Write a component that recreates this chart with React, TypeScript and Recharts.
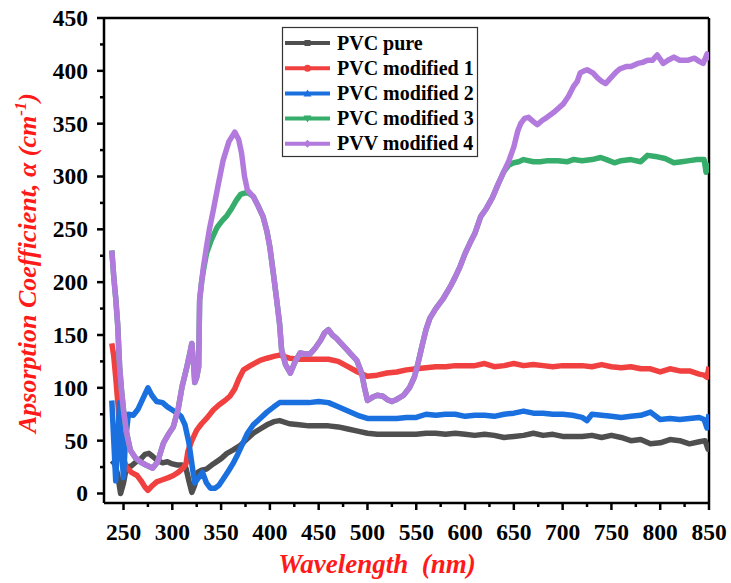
import React from 'react';
import { LineChart, Line, XAxis, YAxis, ReferenceLine } from 'recharts';

// wavelength (nm) / absorption coefficient pairs
const pvcPure: [number, number][] = [
  [238, 31], [241, 28], [244, 18], [247, 0], [250, 10], [253, 25], [258, 26], [263, 30], [268, 33],
  [272, 37], [276, 38], [280, 35], [285, 31], [290, 29], [295, 30], [300, 28], [305, 27], [310, 27],
  [314, 24], [317, 12], [320, 1], [323, 8], [326, 20], [330, 22], [335, 23], [342, 28], [350, 33],
  [356, 38], [362, 41], [369, 45], [376, 51], [383, 57], [390, 61], [397, 65], [404, 68], [410, 69],
  [420, 66], [430, 65], [440, 64], [450, 64], [460, 64], [470, 63], [480, 61], [490, 59], [500, 57],
  [510, 56], [520, 56], [530, 56], [540, 56], [550, 56], [560, 57], [570, 57], [580, 56], [590, 57],
  [600, 56], [610, 55], [620, 56], [630, 55], [640, 53], [650, 54], [660, 55], [670, 57], [680, 55],
  [690, 56], [700, 54], [710, 54], [720, 54], [730, 55], [740, 53], [750, 55], [760, 53], [770, 50],
  [780, 51], [790, 47], [800, 48], [810, 51], [820, 50], [830, 47], [840, 49], [846, 50], [849, 42], [850, 45],
];

const pvcModified1: [number, number][] = [
  [238, 142], [240, 130], [242, 110], [244, 88], [246, 63], [248, 45], [250, 33], [253, 25], [258, 20],
  [264, 17], [268, 12], [272, 6], [275, 3], [279, 7], [284, 11], [290, 13], [296, 15], [301, 17],
  [306, 20], [311, 24], [314, 28], [316, 40], [320, 50], [325, 60], [330, 66], [336, 72], [342, 79],
  [348, 84], [354, 88], [359, 92], [364, 99], [368, 108], [373, 117], [380, 121], [390, 126], [397, 128],
  [405, 130], [410, 131], [420, 128], [430, 127], [440, 127], [450, 127], [460, 127], [470, 125],
  [480, 120], [490, 115], [500, 111], [510, 112], [520, 114], [530, 115], [540, 117], [550, 118],
  [560, 119], [570, 120], [580, 120], [590, 121], [600, 121], [610, 121], [620, 123], [630, 120],
  [640, 121], [650, 123], [660, 121], [670, 122], [680, 121], [690, 120], [700, 121], [710, 121],
  [720, 121], [730, 120], [740, 122], [750, 120], [760, 119], [770, 120], [780, 118], [790, 118],
  [800, 115], [810, 118], [820, 116], [830, 116], [840, 113], [845, 112], [848, 110], [850, 120],
];

const pvcModified2: [number, number][] = [
  [238, 88], [240, 50], [242, 12], [244, 50], [246, 86], [248, 40], [250, 15], [252, 50], [255, 75],
  [260, 74], [265, 80], [270, 90], [275, 100], [279, 93], [284, 87], [290, 86], [295, 82], [300, 79],
  [305, 76], [309, 73], [313, 65], [317, 48], [321, 22], [323, 10], [327, 15], [331, 20], [335, 10],
  [339, 5], [344, 5], [348, 8], [353, 15], [358, 22], [362, 28], [367, 37], [372, 47], [377, 57],
  [383, 65], [390, 71], [397, 77], [404, 82], [410, 86], [420, 86], [430, 86], [440, 86], [450, 87],
  [460, 86], [470, 82], [480, 78], [490, 74], [500, 71], [510, 71], [520, 71], [530, 71], [540, 72],
  [550, 72], [560, 75], [570, 74], [580, 75], [590, 75], [600, 73], [610, 74], [620, 74], [630, 73],
  [640, 75], [650, 76], [660, 78], [670, 76], [680, 76], [690, 75], [700, 75], [710, 74], [720, 72],
  [725, 69], [730, 75], [740, 74], [750, 73], [760, 72], [770, 73], [780, 74], [790, 77], [800, 70],
  [810, 71], [820, 70], [830, 71], [840, 72], [845, 70], [848, 62], [850, 75],
];

const pvcModified3: [number, number][] = [
  [238, 230], [240, 205], [242, 185], [244, 160], [246, 120], [248, 97], [250, 79], [253, 58], [257, 41],
  [262, 34], [267, 30], [273, 27], [280, 24], [285, 30], [291, 48], [296, 56], [301, 63], [306, 80],
  [310, 101], [315, 120], [318, 133], [320, 142], [322, 120], [323, 105], [325, 110], [327, 120],
  [328, 183], [330, 200], [332, 212], [335, 227], [340, 240], [346, 252], [351, 258], [356, 263],
  [361, 270], [366, 278], [370, 283], [373, 284], [377, 285], [383, 281], [388, 272], [393, 262],
  [397, 248], [400, 233], [404, 205], [407, 183], [410, 160], [412, 136], [416, 122], [421, 114],
  [426, 125], [431, 133], [436, 132], [441, 132], [446, 137], [452, 145], [456, 152], [460, 155],
  [464, 150], [468, 147], [472, 143], [478, 137], [484, 131], [489, 126], [494, 114], [497, 100],
  [500, 88], [505, 91], [510, 93], [516, 92], [520, 89], [525, 87], [530, 89], [537, 93], [543, 100],
  [548, 110], [551, 120], [556, 140], [560, 155], [564, 166], [570, 175], [578, 185], [585, 196],
  [590, 205], [595, 215], [600, 227], [605, 237], [610, 246], [616, 262], [622, 270], [628, 280],
  [634, 293], [640, 305], [645, 311], [650, 313], [655, 314], [660, 316], [670, 314], [677, 314],
  [685, 315], [695, 315], [705, 314], [711, 316], [720, 315], [730, 316], [739, 318], [745, 316],
  [753, 313], [760, 315], [770, 316], [780, 314], [787, 320], [795, 319], [805, 317], [814, 313],
  [822, 314], [830, 315], [838, 316], [845, 316], [847, 304], [850, 313],
];

const pvvModified4: [number, number][] = [
  [238, 230], [240, 205], [242, 185], [244, 160], [246, 120], [248, 97], [250, 79], [253, 58], [257, 41],
  [262, 34], [267, 30], [273, 27], [280, 24], [285, 30], [291, 48], [296, 56], [301, 63], [306, 80],
  [310, 101], [315, 120], [318, 133], [320, 142], [322, 120], [323, 105], [325, 110], [327, 120],
  [328, 183], [330, 200], [332, 215], [335, 233], [338, 250], [342, 268], [347, 292], [352, 315],
  [358, 333], [364, 342], [368, 335], [371, 322], [374, 300], [377, 287], [383, 281], [388, 272],
  [393, 262], [397, 248], [400, 233], [404, 205], [407, 183], [410, 160], [412, 136], [416, 122],
  [421, 114], [426, 125], [431, 133], [436, 132], [441, 132], [446, 137], [452, 145], [456, 152],
  [460, 155], [464, 150], [468, 147], [472, 143], [478, 137], [484, 131], [489, 126], [494, 114],
  [497, 100], [500, 88], [505, 91], [510, 93], [516, 92], [520, 89], [525, 87], [530, 89], [537, 93],
  [543, 100], [548, 110], [551, 120], [556, 140], [560, 155], [564, 166], [570, 175], [578, 185],
  [585, 196], [590, 205], [595, 215], [600, 227], [605, 237], [610, 246], [616, 262], [622, 270],
  [628, 280], [634, 293], [640, 305], [645, 315], [650, 328], [654, 343], [657, 350], [661, 355],
  [665, 356], [670, 352], [674, 349], [679, 353], [684, 356], [690, 360], [695, 364], [701, 369],
  [706, 376], [711, 385], [715, 390], [718, 398], [722, 400], [725, 401], [731, 398], [736, 393],
  [740, 390], [744, 388], [750, 394], [755, 399], [759, 402], [765, 404], [770, 404], [777, 407],
  [782, 408], [787, 410], [792, 410], [797, 415], [803, 407], [808, 410], [814, 413], [820, 410],
  [828, 410], [835, 412], [840, 409], [844, 407], [848, 416], [850, 410],
];

const seriesNames = ['PVC pure', 'PVC modified 1', 'PVC modified 2', 'PVC modified 3', 'PVV modified 4'];
const seriesData = [pvcPure, pvcModified1, pvcModified2, pvcModified3, pvvModified4];
const xTicks = [250, 275, 300, 325, 350, 375, 400, 425, 450, 475, 500, 525, 550, 575, 600, 625, 650, 675, 700, 725, 750, 775, 800, 825, 850];
const yTicks = [0, 25, 50, 75, 100, 125, 150, 175, 200, 225, 250, 275, 300, 325, 350, 375, 400, 425, 450];

const COLORS = ['#4f4f4f', '#f0403f', '#1a70de', '#36ad6a', '#b27adc'];
const FONT = "'Times New Roman', 'Liberation Serif', serif";

const XTick = (props: any) => {
  const { x, y, payload } = props;
  const major = payload.value % 50 === 0;
  return (
    <g>
      <line x1={x} x2={x} y1={y} y2={y + (major ? 7 : 4)} stroke="#000" strokeWidth={2.5} />
      {major && (
        <text x={x} y={y + 37} textAnchor="middle" fontFamily={FONT} fontWeight="bold" fontSize={23.5} fill="#000">
          {payload.value}
        </text>
      )}
    </g>
  );
};

const YTick = (props: any) => {
  const { x, y, payload } = props;
  const major = payload.value % 50 === 0;
  return (
    <g>
      <line x1={x} x2={x - (major ? 7 : 4)} y1={y} y2={y} stroke="#000" strokeWidth={2.5} />
      {major && (
        <text x={x - 16} y={y + 8} textAnchor="end" fontFamily={FONT} fontWeight="bold" fontSize={23.5} fill="#000">
          {payload.value}
        </text>
      )}
    </g>
  );
};

const Marker = ({ i, cx, cy, color }: { i: number; cx: number; cy: number; color: string }) => {
  if (i === 0) return <rect x={cx - 3} y={cy - 3} width={6} height={6} fill={color} />;
  if (i === 1) return <circle cx={cx} cy={cy} r={3.5} fill={color} />;
  if (i === 2) return <polygon points={`${cx},${cy - 4} ${cx + 4},${cy + 3} ${cx - 4},${cy + 3}`} fill={color} />;
  if (i === 3) return <polygon points={`${cx},${cy + 4} ${cx + 4},${cy - 3} ${cx - 4},${cy - 3}`} fill={color} />;
  return <polygon points={`${cx},${cy - 4} ${cx + 4},${cy} ${cx},${cy + 4} ${cx - 4},${cy}`} fill={color} />;
};

export default function App() {
  return (
    <div style={{ position: 'absolute', left: 0, top: 0, width: 731, height: 583, background: '#fff' }}>
      <LineChart width={731} height={583} margin={{ top: 18, right: 22, left: 44, bottom: 50 }}>
        <XAxis
          type="number"
          dataKey="x"
          domain={[230, 850]}
          ticks={xTicks}
          interval={0}
          height={30}
          tickSize={0}
          tickMargin={0}
          tickLine={false}
          axisLine={{ stroke: '#000', strokeWidth: 2.5 }}
          tick={<XTick />}
          allowDataOverflow
        />
        <YAxis
          type="number"
          domain={[-9, 450]}
          ticks={yTicks}
          interval={0}
          width={60}
          tickSize={0}
          tickMargin={0}
          tickLine={false}
          axisLine={{ stroke: '#000', strokeWidth: 2.5 }}
          tick={<YTick />}
          allowDataOverflow
        />
        <ReferenceLine y={450} stroke="#000" strokeWidth={2.5} />
        <ReferenceLine x={850} stroke="#000" strokeWidth={2.5} />
        {seriesData.map((s, i) => (
          <Line
            key={seriesNames[i]}
            data={s.map(([x, y]) => ({ x, y }))}
            dataKey="y"
            type="linear"
            stroke={COLORS[i]}
            strokeWidth={5.5}
            strokeLinejoin="round"
            dot={false}
            isAnimationActive={false}
          />
        ))}
      </LineChart>

      <svg width={731} height={583} style={{ position: 'absolute', left: 0, top: 0, pointerEvents: 'none' }}>
        <text
          transform="translate(36, 263) rotate(-90)"
          textAnchor="middle"
          fontFamily={FONT}
          fontWeight="bold"
          fontStyle="italic"
          fontSize={26}
          fill="#ff1a1a"
        >
          Apsorption Coefficient, α (cm<tspan fontSize={17} dy={-10}>-1</tspan><tspan dy={10}>)</tspan>
        </text>
        <text
          x={377}
          y={573}
          textAnchor="middle"
          fontFamily={FONT}
          fontWeight="bold"
          fontStyle="italic"
          fontSize={27}
          fill="#ff1a1a"
          style={{ whiteSpace: 'pre' }}
        >
          Wavelength  (nm)
        </text>

        <rect x={282.5} y={27.5} width={195} height={129} fill="#fff" stroke="#333" strokeWidth={1.2} />
        {seriesNames.map((name, i) => {
          const cy = 43 + i * 25.2;
          return (
            <g key={name}>
              <line x1={285} x2={330} y1={cy} y2={cy} stroke={COLORS[i]} strokeWidth={4} />
              <Marker i={i} cx={307.5} cy={cy} color={COLORS[i]} />
              <text x={337} y={cy + 6.5} fontFamily={FONT} fontWeight="bold" fontSize={20} fill="#000">
                {name}
              </text>
            </g>
          );
        })}
      </svg>
    </div>
  );
}
